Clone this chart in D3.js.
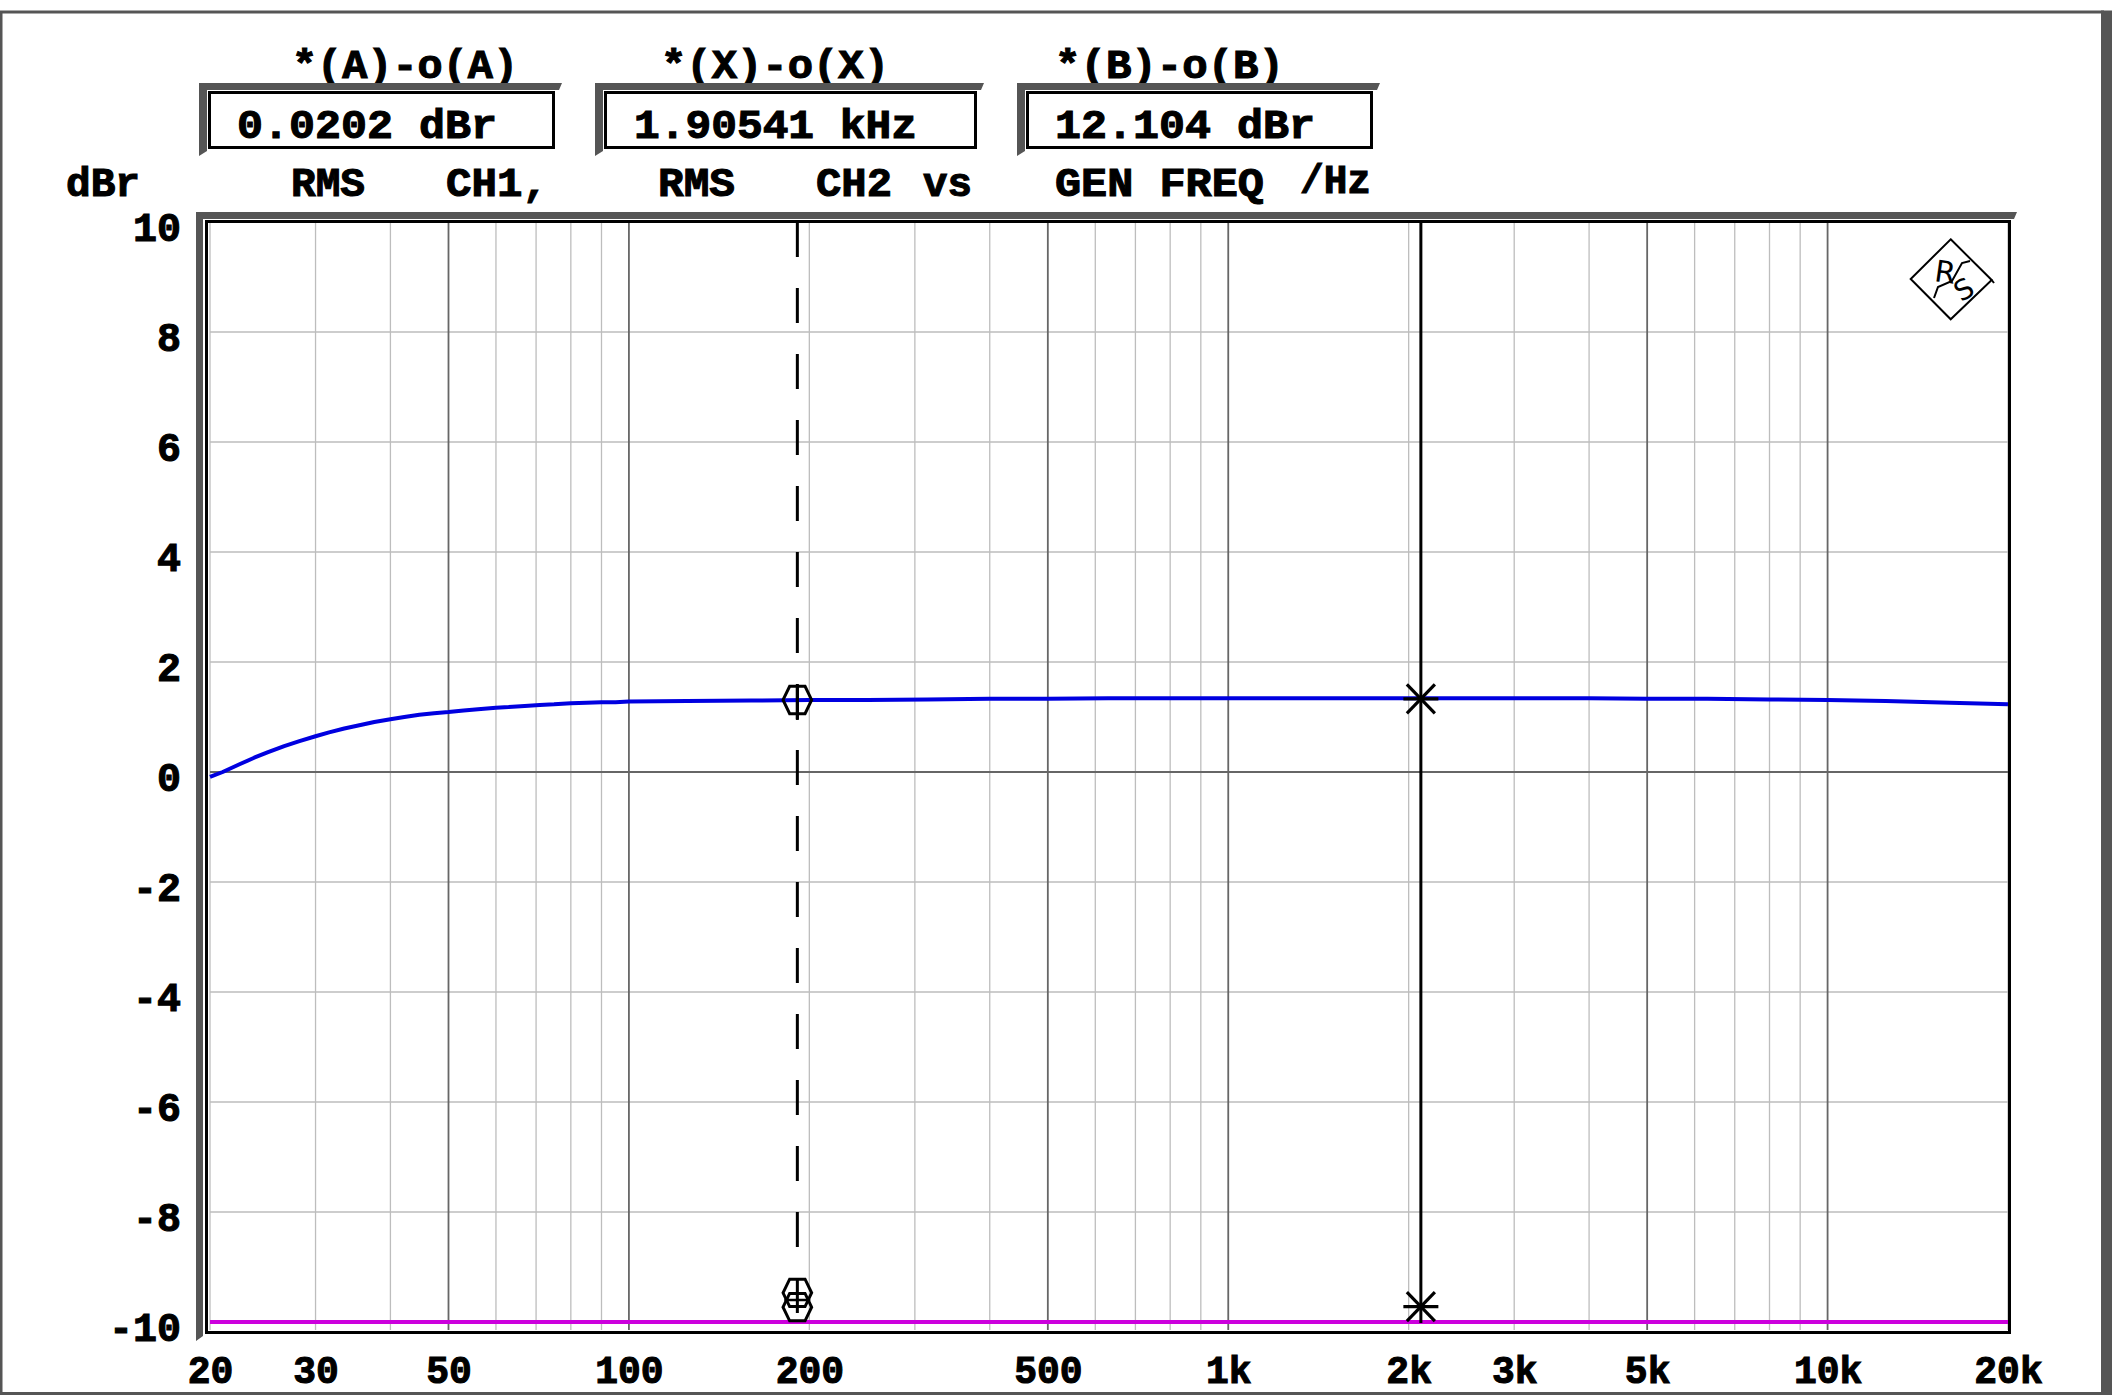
<!DOCTYPE html>
<html><head><meta charset="utf-8">
<script src="https://cdn.jsdelivr.net/npm/d3@7"></script>
<style>
html,body{margin:0;padding:0;background:#fff;}
svg{display:block;}
text{font-family:"Liberation Mono","DejaVu Sans Mono",monospace;font-weight:bold;fill:#000;stroke:#000;stroke-width:1.1px;}
</style></head><body>
<svg id="c" width="2112" height="1395"></svg>
<script>
// ---------------- data ----------------
const freqA = [20,21,22.4,23.7,25,26.6,28.2,30,31.6,33.5,35.5,37.6,40,42.2,44.7,47.3,50,53,56,60,63,67,71,75,80,85,90,95,100,125,160,200,250,315,400,500,630,800,1000,1250,1600,2000,2500,3150,4000,5000,6300,8000,10000,12500,16000,20000];
const levelA = [-0.09,0.00,0.14,0.26,0.36,0.47,0.56,0.65,0.72,0.79,0.85,0.91,0.96,1.00,1.04,1.07,1.09,1.12,1.14,1.17,1.18,1.20,1.22,1.23,1.25,1.26,1.27,1.27,1.28,1.29,1.30,1.31,1.31,1.32,1.33,1.33,1.34,1.34,1.34,1.34,1.34,1.34,1.34,1.34,1.34,1.33,1.33,1.32,1.31,1.29,1.26,1.23];
const freqB = [20,100,1000,10000,20000];
const levelB = [-10,-10,-10,-10,-10];
const xTickValues = [20,30,50,100,200,500,1000,2000,3000,5000,10000,20000];
const xTickLabels = ["20","30","50","100","200","500","1k","2k","3k","5k","10k","20k"];
const yTickValues = [-10,-8,-6,-4,-2,0,2,4,6,8,10];
const cursorOFreq = 191;
const cursorStarFreq = 2096;
const cursorOLevelA = 1.31;
const cursorOLevelsB = [-9.47,-9.73];
const cursorStarLevelA = 1.33;
const cursorStarLevelB = -9.72;
const headerTitles = ["*(A)-o(A)","*(X)-o(X)","*(B)-o(B)"];
const headerValues = ["0.0202 dBr","1.90541 kHz","12.104 dBr"];
const captionWords = ["dBr","RMS","CH1,","RMS","CH2","vs","GEN FREQ","/Hz"];

// ---------------- layout ----------------
const svg = d3.select("#c");
const L = 210, R = 2008, T = 222, B = 1322;
const x = d3.scaleLog().domain([20,20000]).range([L,R]);
const y = d3.scaleLinear().domain([-10,10]).range([B,T]);
const gray = "#555";

// page border
svg.append("rect").attr("x",0).attr("y",0).attr("width",2112).attr("height",1395).attr("fill","#fff");
svg.append("rect").attr("x",0).attr("y",10.5).attr("width",2104).attr("height",3).attr("fill",gray);
svg.append("rect").attr("x",0).attr("y",11).attr("width",2.5).attr("height",1384).attr("fill",gray);
svg.append("rect").attr("x",0).attr("y",1392).attr("width",2112).attr("height",3).attr("fill",gray);
svg.append("rect").attr("x",2101).attr("y",10.5).attr("width",11).attr("height",1385).attr("fill",gray);

// header titles
const titleX = [292,661,1055], titleW = [226,228,229];
headerTitles.forEach((t,i)=>{
  svg.append("text").attr("x",titleX[i]).attr("y",78).attr("font-size",41)
    .attr("textLength",titleW[i]).attr("lengthAdjust","spacingAndGlyphs").text(t);
});
// value boxes
const boxX0 = [208,604,1026], boxX1 = [555,977,1373];
const valX = [237,634,1055], valW = [260,283,260];
headerValues.forEach((t,i)=>{
  const x0 = boxX0[i], x1 = boxX1[i];
  svg.append("path").attr("fill",gray)
    .attr("d",`M${x0-9},83 L${x1+7},83 L${x1+4},90 L${x0-1},90 L${x0-1},151 L${x0-9},156 Z`);
  svg.append("rect").attr("x",x0+1.5).attr("y",92.5).attr("width",x1-x0-3).attr("height",55)
    .attr("fill","#fff").attr("stroke","#000").attr("stroke-width",3);
  svg.append("text").attr("x",valX[i]).attr("y",138).attr("font-size",41)
    .attr("textLength",valW[i]).attr("lengthAdjust","spacingAndGlyphs").text(t);
});
// caption row
const capX = [66,291,446,658,816,923,1055,1300], capW = [74,74,102,77,76,49,209,71];
captionWords.forEach((t,i)=>{
  svg.append("text").attr("x",capX[i]).attr("y",i===7?193:196).attr("font-size",41)
    .attr("textLength",capW[i]).attr("lengthAdjust","spacingAndGlyphs").text(t);
});

// plot frame shadow
svg.append("path").attr("fill",gray)
  .attr("d",`M196,212 L2017,212 L2014,219 L203,219 L203,1336 L196,1341 Z`);

// grid
const gGrid = svg.append("g");
const lead = f => Math.round(f/Math.pow(10,Math.floor(Math.log10(f)+1e-9)));
const minor = x.ticks().filter(f => lead(f)!==1 && lead(f)!==5);
const major = x.ticks().filter(f => lead(f)===1 || lead(f)===5);
gGrid.selectAll("line.mn").data(minor).join("line")
  .attr("x1",d=>x(d)).attr("x2",d=>x(d)).attr("y1",T).attr("y2",B+8)
  .attr("stroke","#bdbdbd").attr("stroke-width",1.3);
gGrid.selectAll("line.hy").data(yTickValues.filter(v=>v!==0)).join("line")
  .attr("x1",L).attr("x2",R).attr("y1",d=>y(d)).attr("y2",d=>y(d))
  .attr("stroke","#bdbdbd").attr("stroke-width",1.3);
gGrid.selectAll("line.mj").data(major).join("line")
  .attr("x1",d=>x(d)).attr("x2",d=>x(d)).attr("y1",T).attr("y2",B+8)
  .attr("stroke","#666").attr("stroke-width",1.8);
gGrid.append("line").attr("x1",L).attr("x2",R).attr("y1",y(0)).attr("y2",y(0))
  .attr("stroke","#666").attr("stroke-width",2.2);

// traces
const line = d3.line().x(d=>x(d[0])).y(d=>y(d[1]));
svg.append("path").datum(freqB.map((f,i)=>[f,levelB[i]])).attr("d",line)
  .attr("fill","none").attr("stroke","#cc00dd").attr("stroke-width",4);
svg.append("path").datum(freqA.map((f,i)=>[f,levelA[i]])).attr("d",line)
  .attr("fill","none").attr("stroke","#0000e0").attr("stroke-width",4).attr("stroke-linejoin","round");

// cursors
svg.append("line").attr("x1",x(cursorOFreq)).attr("x2",x(cursorOFreq)).attr("y1",T).attr("y2",B)
  .attr("stroke","#000").attr("stroke-width",3).attr("stroke-dasharray","35,31");
svg.append("line").attr("x1",x(cursorStarFreq)).attr("x2",x(cursorStarFreq)).attr("y1",T).attr("y2",B+1)
  .attr("stroke","#000").attr("stroke-width",3);

function hexagon(cx,cy){
  return `M${cx-14.3},${cy} L${cx-7.7},${cy-13.7} L${cx+7.7},${cy-13.7} L${cx+14.3},${cy} L${cx+7.7},${cy+13.7} L${cx-7.7},${cy+13.7} Z`;
}
const cxO = x(cursorOFreq);
svg.append("path").attr("d",hexagon(cxO,y(cursorOLevelA))).attr("fill","none").attr("stroke","#000").attr("stroke-width",3);
svg.append("line").attr("x1",cxO).attr("x2",cxO).attr("y1",y(cursorOLevelA)-14).attr("y2",y(cursorOLevelA)+20).attr("stroke","#000").attr("stroke-width",3);
cursorOLevelsB.forEach(v=>{
  svg.append("path").attr("d",hexagon(cxO,y(v))).attr("fill","none").attr("stroke","#000").attr("stroke-width",3);
});
const midB = (y(cursorOLevelsB[0])+y(cursorOLevelsB[1]))/2;
svg.append("line").attr("x1",cxO-13).attr("x2",cxO+13).attr("y1",midB).attr("y2",midB).attr("stroke","#000").attr("stroke-width",2.5);

function asterisk(cx,cy){
  const g = svg.append("g").attr("stroke","#000").attr("stroke-width",3.2);
  g.append("line").attr("x1",cx-17.5).attr("x2",cx+17.5).attr("y1",cy).attr("y2",cy);
  g.append("line").attr("x1",cx-14).attr("x2",cx+14).attr("y1",cy-14.5).attr("y2",cy+14.5);
  g.append("line").attr("x1",cx-14).attr("x2",cx+14).attr("y1",cy+14.5).attr("y2",cy-14.5);
}
const cxS = x(cursorStarFreq);
asterisk(cxS,y(cursorStarLevelA));
asterisk(cxS,y(cursorStarLevelB));

// frame
svg.append("rect").attr("x",206.5).attr("y",221.5).attr("width",1803).attr("height",1111)
  .attr("fill","none").attr("stroke","#000").attr("stroke-width",3);

// logo
const lg = svg.append("g");
lg.append("path").attr("d","M1950.7,239.3 L1991.7,280 L1950.7,319.3 L1910.7,279 Z")
  .attr("fill","none").attr("stroke","#000").attr("stroke-width",2);
lg.append("line").attr("x1",1991.7).attr("y1",280).attr("x2",1994).attr("y2",283).attr("stroke","#000").attr("stroke-width",2);
lg.append("text").attr("x",1935).attr("y",282).attr("font-size",30).style("font-family","DejaVu Sans")
  .style("font-weight","normal").style("stroke","none").attr("transform","rotate(8,1942,270)").text("R");
lg.append("text").attr("x",1955).attr("y",300).attr("font-size",28).style("font-family","DejaVu Sans")
  .style("font-weight","normal").style("stroke","none").attr("transform","rotate(-30,1962,290)").text("S");
lg.append("path").attr("d","M1934,298 L1938,287 L1952,281 L1962,263 L1970,261")
  .attr("fill","none").attr("stroke","#000").attr("stroke-width",2);

// axes labels
const yAxis = d3.axisLeft(y).tickValues(yTickValues).tickSize(0).tickPadding(0).tickFormat(d=>String(d));
const gy = svg.append("g").attr("transform","translate(181,0)").call(yAxis);
gy.select(".domain").remove();
gy.selectAll("text").attr("dy",null).attr("y",18).attr("x",0).attr("font-size",40)
  .style("font-family",'"Liberation Mono","DejaVu Sans Mono",monospace').style("font-weight","bold").attr("fill","#000");

const xAxis = d3.axisBottom(x).tickValues(xTickValues).tickSize(0).tickPadding(0)
  .tickFormat((d,i)=>xTickLabels[i]);
const gx = svg.append("g").attr("transform","translate(0,1383)").call(xAxis);
gx.select(".domain").remove();
gx.selectAll("text").attr("dy",null).attr("y",0).attr("font-size",38)
  .style("font-family",'"Liberation Mono","DejaVu Sans Mono",monospace').style("font-weight","bold").attr("fill","#000");
</script>
</body></html>
